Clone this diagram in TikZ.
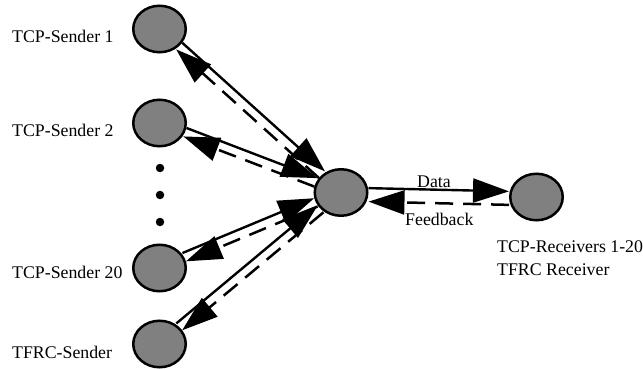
\documentclass[tikz,border=0pt]{standalone}
\usepackage{fontspec}
\setmainfont{Liberation Serif}
\usetikzlibrary{shapes.geometric,arrows.meta}
\definecolor{nodegray}{HTML}{808080}
\tikzset{
  host/.style={ellipse, draw=black, line width=2.5pt, fill=nodegray, inner sep=0pt,
               minimum width=52.5pt, minimum height=46.5pt},
  lbl/.style={anchor=base west, inner sep=0pt, font=\fontsize{17.8pt}{20pt}\selectfont},
  dataline/.style={line width=2.4pt, -{Triangle[length=36pt,width=24pt]}},
  fbline/.style={line width=2.5pt, dash pattern=on 18pt off 10pt, -{Triangle[length=36pt,width=24pt]}},
  dotmark/.style={circle, fill=black, inner sep=0pt, minimum size=8.5pt}
}
\begin{document}
\begin{tikzpicture}[x=1pt,y=-1pt]
\useasboundingbox (0,0) rectangle (643,369);
% hosts
\node[host] (s1) at (159.5,29) {};
\node[host] (s2) at (159.5,123) {};
\node[host] (s20) at (159.5,268) {};
\node[host] (tf) at (159.5,344) {};
\node[host] (c) at (341,192.5) {};
\node[host] (r) at (536.5,197) {};
% dots
\node[dotmark] (d1) at (160,168) {};
\node[dotmark] (d2) at (160,195) {};
\node[dotmark] (d3) at (160,222) {};
% labels
\node[lbl] (l1) at (12,43) {TCP-Sender 1};
\node[lbl] (l2) at (12,136) {TCP-Sender 2};
\node[lbl] (l20) at (12,278) {TCP-Sender 20};
\node[lbl] (ltf) at (12,358) {TFRC-Sender};
\node[lbl] (lr1) at (497,252) {TCP-Receivers 1-20};
\node[lbl] (lr2) at (497,275) {TFRC Receiver};
\node[lbl] (ldata) at (417,187) {Data};
\node[lbl] (lfb) at (405,225) {Feedback};
% sender -> router (solid), router -> sender (dashed)
\draw[dataline, transform canvas={shift={(3.35pt,3.71pt)}}] (s1) -- (c);
\draw[fbline, transform canvas={shift={(-2.68pt,-2.97pt)}}] (c) -- (s1);
\draw[dataline, transform canvas={shift={(1.79pt,4.67pt)}}] (s2) -- (c);
\draw[fbline, transform canvas={shift={(-1.43pt,-3.74pt)}}] (c) -- (s2);
\draw[dataline, transform canvas={shift={(-1.92pt,4.62pt)}}] (s20) -- (c);
\draw[fbline, transform canvas={shift={(1.54pt,-3.69pt)}}] (c) -- (s20);
\draw[dataline, transform canvas={shift={(-3.2pt,3.84pt)}}] (tf) -- (c);
\draw[fbline, transform canvas={shift={(2.56pt,-3.07pt)}}] (c) -- (tf);
% router <-> receiver
\draw[dataline, transform canvas={shift={(0pt,5pt)}}] (c) -- (r);
\draw[fbline, transform canvas={shift={(0pt,-8.5pt)}}] (r) -- (c);
\end{tikzpicture}
\end{document}
